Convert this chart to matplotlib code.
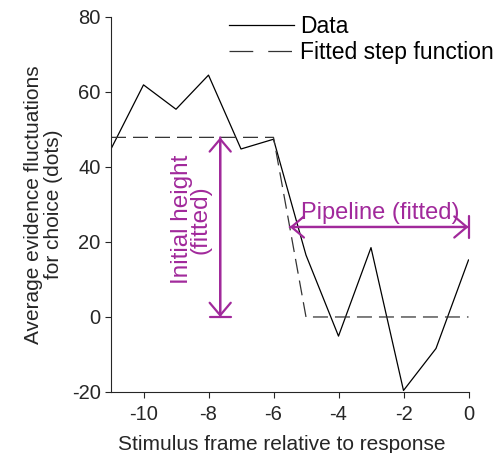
import numpy as np
import matplotlib
matplotlib.use("Agg")
import matplotlib.pyplot as plt

plt.rcParams['font.family'] = ['Liberation Sans', 'DejaVu Sans']
plt.rcParams['axes.unicode_minus'] = False

# evidence fluctuations per frame before the response
frames = [-11, -10, -9, -8, -7, -6, -5, -4, -3, -2, -1, 0]
evidence = [44.8, 61.9, 55.4, 64.5, 44.8, 47.4, 16.5, -5.1, 18.5, -19.6, -8.4, 15.2]

# fitted step function
step_x = [-11, -6, -5, 0]
step_y = [47.9, 47.9, 0, 0]

initial_height = 47.9
height_x = -7.64
pipeline_start = -5.5
pipeline_y = 24

purple = '#A1299B'
grey = '#262626'

fig = plt.figure(figsize=(5.0, 4.53), dpi=100)
ax = fig.add_axes([0.222, 0.1347, 0.715, 0.8278])

ax.plot(frames, evidence, color='black', lw=0.9, label='Data')
ax.plot(step_x, step_y, color='#333333', lw=0.9, dashes=(12, 5.6),
        label='Fitted step function')

# double-headed arrows with a bar at one end
for xy_a, xy_b in [((height_x, initial_height), (height_x, 0)),
                   ((pipeline_start, pipeline_y), (0, pipeline_y))]:
    ax.annotate('', xy=xy_b, xytext=xy_a,
                arrowprops=dict(arrowstyle='<->,head_length=0.45,head_width=0.38',
                                color=purple, lw=1.6, shrinkA=0, shrinkB=0,
                                mutation_scale=20))
    ax.annotate('', xy=xy_b, xytext=xy_a,
                arrowprops=dict(arrowstyle='-[,widthB=0.38,lengthB=0',
                                color=purple, lw=1.6, shrinkA=0, shrinkB=0,
                                mutation_scale=20))

ax.text(height_x - 0.88, 26, 'Initial height\n(fitted)', color=purple,
        fontsize=17.5, rotation=90, ha='center', va='center', linespacing=0.8)
ax.text(-2.72, 27.6, 'Pipeline (fitted)', color=purple, fontsize=17,
        ha='center', va='center')

ax.set_xlim(-11, 0)
ax.set_ylim(-20, 80)
ax.set_xticks([-10, -8, -6, -4, -2, 0])
ax.set_yticks([-20, 0, 20, 40, 60, 80])

for s in ['top', 'right']:
    ax.spines[s].set_visible(False)
for s in ['left', 'bottom']:
    ax.spines[s].set_color(grey)
    ax.spines[s].set_linewidth(0.8)
ax.tick_params(direction='out', length=4, width=0.8, color=grey,
               labelcolor=grey, labelsize=14.5)
ax.tick_params(axis='x', pad=5.5)

ax.set_xlabel('Stimulus frame relative to response', fontsize=15, color=grey)
ax.xaxis.set_label_coords(0.479, -0.115)
ax.set_ylabel('Average evidence fluctuations\nfor choice (dots)', fontsize=15,
              color=grey, labelpad=6, linespacing=1.1)

leg = ax.legend(loc='upper left', bbox_to_anchor=(0.299, 1.035), frameon=False,
                fontsize=16.5, borderpad=0, handlelength=2.8, handletextpad=0.3,
                labelspacing=0.1)
# longer dashes in the legend sample
leg.get_lines()[1].set_dashes((19, 12))

fig.savefig('out.png', dpi=100)
